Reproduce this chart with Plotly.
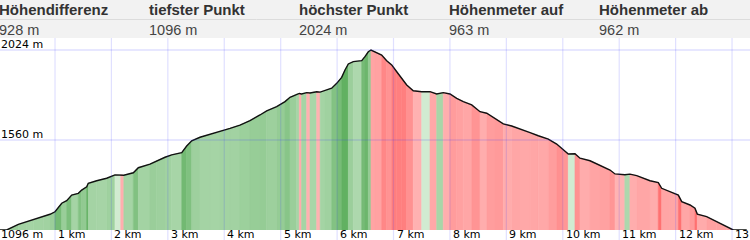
import plotly.graph_objects as go

# ---- data ----
distance_km = [0.0, 0.144, 0.35, 0.50, 0.615, 0.793, 0.911, 1.0, 1.119, 1.207,
               1.296, 1.413, 1.473, 1.562, 1.590, 1.739, 1.916, 2.063, 2.165, 2.22, 2.388,
               2.477, 2.684, 2.803, 2.95, 3.068, 3.246, 3.334, 3.423, 3.57, 3.747,
               3.924, 4.102, 4.279, 4.456, 4.633, 4.752, 4.929, 5.077, 5.165, 5.284,
               5.33, 5.37, 5.461, 5.52, 5.638, 5.70, 5.785, 5.904, 5.993, 6.081,
               6.14, 6.199, 6.287, 6.436, 6.494, 6.553, 6.601, 6.672, 6.79, 6.879,
               6.968, 7.057, 7.145, 7.234, 7.35, 7.5, 7.647, 7.765, 7.882, 8.001,
               8.12, 8.237, 8.386, 8.533, 8.652, 8.799, 8.946, 9.095, 9.242, 9.42,
               9.566, 9.743, 9.892, 10.009, 10.098, 10.216, 10.305, 10.483, 10.66, 10.837,
               10.926, 11.10, 11.19, 11.31, 11.546, 11.693, 11.753, 11.9, 12.048, 12.108,
               12.255, 12.343, 12.384, 12.55, 12.728, 12.905, 13.022, 13.26]
elevation_m = [1096, 1096, 1125, 1139, 1148, 1165, 1177, 1190, 1234, 1247,
               1276, 1285, 1302, 1319, 1337, 1350, 1363, 1380, 1381, 1378, 1391,
               1417, 1436, 1453, 1471, 1483, 1495, 1529, 1556, 1574, 1589,
               1603, 1620, 1637, 1660, 1689, 1710, 1732, 1758, 1780, 1797,
               1800, 1797, 1804, 1802, 1809, 1807, 1814, 1827, 1852, 1883,
               1921, 1952, 1964, 1969, 1990, 2015, 2024, 2015, 1998, 1969,
               1947, 1912, 1878, 1844, 1814, 1809, 1809, 1797, 1804, 1797,
               1775, 1758, 1741, 1706, 1698, 1672, 1643, 1632, 1615, 1598,
               1582, 1565, 1539, 1508, 1488, 1489, 1466, 1453, 1431, 1405,
               1385, 1381, 1384, 1376, 1350, 1340, 1311, 1293, 1276, 1242,
               1225, 1208, 1178, 1165, 1139, 1113, 1096, 1096]

header_labels = ["Höhendifferenz", "tiefster Punkt", "höchster Punkt", "Höhenmeter auf", "Höhenmeter ab"]
header_values = ["928 m", "1096 m", "2024 m", "963 m", "962 m"]
x_ticks = list(range(1, 14))
x_tick_labels = [f"{k} km" for k in x_ticks]
y_ticks = [2024, 1560]
y_tick_labels = ["2024 m", "1560 m"]
y_min_label = "1096 m"

# ---- layout constants (pixels) ----
W, H = 750, 240
PLOT_TOP, PLOT_BOTTOM = 40, 230
Y0 = 1096
M_PER_PX = 928 / 180.0
Y_TOP = Y0 + (PLOT_BOTTOM - PLOT_TOP) * M_PER_PX
X_PX0, PX_PER_KM = -1.42, 56.42
X_RANGE = [(0 - X_PX0) / PX_PER_KM, (W - X_PX0) / PX_PER_KM]


def py(px_y):
    return (PLOT_BOTTOM - px_y) / (PLOT_BOTTOM - PLOT_TOP)


def mix(c1, c2, t):
    return "rgb(%d,%d,%d)" % tuple(round(a + (b - a) * t) for a, b in zip(c1, c2))


GREEN_L, GREEN_D = (215, 238, 215), (92, 174, 92)
RED_L, RED_D = (255, 214, 214), (255, 108, 108)

fig = go.Figure()

# coloured slope stripes under the profile
for i in range(len(distance_km) - 1):
    x0, x1 = distance_km[i], distance_km[i + 1]
    e0, e1 = elevation_m[i], elevation_m[i + 1]
    g = (e1 - e0) / (x1 - x0)
    if abs(g) < 15:
        t = 0.05
    else:
        t = 0.3 + 0.65 * min(abs(g) / 480.0, 1.0)
    col = mix(GREEN_L, GREEN_D, t) if g >= 0 else mix(RED_L, RED_D, t)
    fig.add_trace(go.Scatter(x=[x0, x0, x1, x1], y=[Y0, e0, e1, Y0], mode="lines",
                             fill="toself", fillcolor=col, line=dict(width=0.6, color=col),
                             hoverinfo="skip", showlegend=False))

# profile line
fig.add_trace(go.Scatter(x=distance_km, y=elevation_m, mode="lines",
                         line=dict(color="#111111", width=1.4), showlegend=False,
                         hoverinfo="skip"))

shapes = []
# header background
shapes.append(dict(type="rect", xref="paper", yref="paper", x0=0, x1=1, y0=py(38), y1=py(0),
                   fillcolor="#f2f2f2", line=dict(width=0), layer="below"))
shapes.append(dict(type="line", xref="paper", yref="paper", x0=0, x1=1, y0=py(19.5), y1=py(19.5),
                   line=dict(color="#dcdcdc", width=1)))
# grid lines drawn over the fill
for k in x_ticks:
    shapes.append(dict(type="line", xref="x", yref="paper", x0=k, x1=k, y0=py(240), y1=py(38),
                       line=dict(color="rgba(60,60,255,0.16)", width=1.2), layer="above"))
for v in y_ticks:
    shapes.append(dict(type="line", xref="paper", yref="y", x0=0, x1=1, y0=v, y1=v,
                       line=dict(color="rgba(60,60,255,0.12)", width=2), layer="above"))

ann = []
hfam = "Liberation Sans, Arial, sans-serif"
for i, (lab, val) in enumerate(zip(header_labels, header_values)):
    xp = (-1 + 150 * i) / W
    ann.append(dict(text="<b>%s</b>" % lab, x=xp, y=py(9.5), xref="paper", yref="paper",
                    xanchor="left", yanchor="middle", showarrow=False, borderpad=0,
                    font=dict(family=hfam, size=15, color="#333333"), xshift=-1))
    ann.append(dict(text=val, x=xp, y=py(30), xref="paper", yref="paper",
                    xanchor="left", yanchor="middle", showarrow=False, borderpad=0,
                    font=dict(family=hfam, size=14.5, color="#444444"), xshift=-1))

afont = dict(family="DejaVu Sans, Verdana, sans-serif", size=11, color="#000000")
for k, lab in zip(x_ticks, x_tick_labels):
    ann.append(dict(text=lab, x=k, y=py(234), xref="x", yref="paper", xanchor="left",
                    yanchor="middle", showarrow=False, font=afont, borderpad=0, xshift=2))
for v, lab in zip(y_ticks, y_tick_labels):
    ann.append(dict(text=lab, x=0, y=v, xref="paper", yref="y", xanchor="left",
                    yanchor="bottom", showarrow=False, font=afont, borderpad=0, yshift=-2))
ann.append(dict(text=y_min_label, x=0, y=py(234), xref="paper", yref="paper", xanchor="left",
                yanchor="middle", showarrow=False, font=afont, borderpad=0))

fig.update_layout(
    width=W, height=H, margin=dict(l=0, r=0, t=PLOT_TOP, b=H - PLOT_BOTTOM),
    paper_bgcolor="white", plot_bgcolor="white",
    xaxis=dict(range=X_RANGE, showgrid=False, zeroline=False, showticklabels=False,
               fixedrange=True),
    yaxis=dict(range=[Y0, Y_TOP], showgrid=False, zeroline=False, showticklabels=False,
               fixedrange=True),
    shapes=shapes, annotations=ann, showlegend=False,
)

fig.write_html("out.html", config={"displayModeBar": False})
